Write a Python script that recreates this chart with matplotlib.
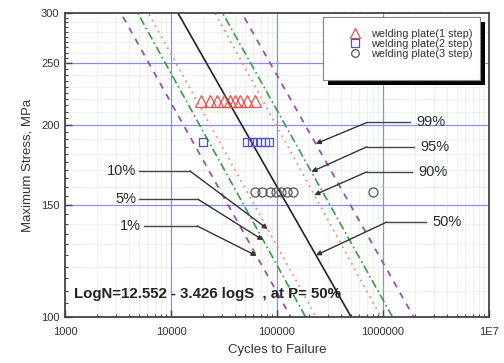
import numpy as np
import matplotlib.pyplot as plt
import matplotlib.patheffects as pe
from matplotlib.patches import Rectangle
from matplotlib.ticker import FixedLocator, FixedFormatter, NullFormatter

plt.rcParams['font.family'] = ['Liberation Sans', 'DejaVu Sans']

# fatigue test results: stress level (MPa) and cycles to failure
step1_stress = 218
step1_cycles = [19200, 23300, 27200, 31600, 36000, 40200, 44800, 52100, 61900]
step2_stress = 188
step2_cycles = [20000, 52100, 58100, 64700, 70600, 77100, 84100]
step3_stress = 157
step3_cycles = [61900, 72100, 85900, 97900, 109000, 124000, 141600, 805000]

# P-S-N curves, logN = a - b logS
prob_labels = ['1%', '5%', '10%', '50%', '90%', '95%', '99%']
prob_a = [11.85, 11.91, 12.01, 12.552, 12.54, 12.81, 13.09]
prob_b = [3.36, 3.32, 3.32, 3.426, 3.28, 3.36, 3.40]

x_ticks = [1e3, 1e4, 1e5, 1e6, 1e7]
x_ticklabels = ['1000', '10000', '100000', '1000000', '1E7']
y_ticks = [100, 150, 200, 250, 300]

purple = '#9a4fb0'
green = '#3d9a4a'
pink = '#f08a8a'
curve_styles = {
    '1%':  dict(color=purple, ls=(0, (3.5, 3.5)), lw=1.3),
    '5%':  dict(color=green, ls=(0, (5, 2, 1, 2)), lw=1.2),
    '10%': dict(color=pink, ls=(0, (1, 2.5)), lw=1.3),
    '50%': dict(color='#222222', ls='-', lw=1.2),
    '90%': dict(color=pink, ls=(0, (1, 2.5)), lw=1.3),
    '95%': dict(color=green, ls=(0, (5, 2, 1, 2)), lw=1.2),
    '99%': dict(color=purple, ls=(0, (3.5, 3.5)), lw=1.3),
}


def cycles_at(a, b, s):
    return 10 ** (a - b * np.log10(s))


fig = plt.figure(figsize=(5.04, 3.63), dpi=100)
ax = fig.add_axes([65 / 504, 1 - 317 / 363, 424 / 504, 304 / 363])
ax.set_xscale('log')
ax.set_yscale('log')
ax.set_xlim(1e3, 1e7)
ax.set_ylim(100, 300)

# faint minor grid, blue major grid
minor_x = [m * 10 ** e for e in range(3, 7) for m in range(2, 10)]
minor_y = list(range(110, 300, 10))
for x in minor_x:
    ax.axvline(x, color='#cfe9cf', lw=0.6, ls=(0, (1, 1)), zorder=0)
for y in minor_y:
    ax.axhline(y, color='#cfe9cf', lw=0.6, ls=(0, (1, 1)), zorder=0)
for x in x_ticks[1:-1]:
    ax.axvline(x, color='#8c8cf0', lw=0.9, zorder=1)
for y in y_ticks[1:-1]:
    ax.axhline(y, color='#8c8cf0', lw=0.9, zorder=1)

# probability curves
s_range = np.array([95.0, 310.0])
for lab, a, b in zip(prob_labels, prob_a, prob_b):
    ax.plot(cycles_at(a, b, s_range), s_range, zorder=2, **curve_styles[lab])

# test points
ax.plot(step1_cycles, [step1_stress] * len(step1_cycles), ls='none', marker='^',
        ms=8, mfc='none', mec='#e85050', mew=0.9, zorder=3,
        label='welding plate(1 step)')
ax.plot(step2_cycles, [step2_stress] * len(step2_cycles), ls='none', marker='s',
        ms=6, mfc='none', mec='#4f4fd8', mew=0.9, zorder=3,
        label='welding plate(2 step)')
ax.plot(step3_cycles, [step3_stress] * len(step3_cycles), ls='none', marker='o',
        ms=6.5, mfc='none', mec='#555555', mew=0.9, zorder=3,
        label='welding plate(3 step)')

# curve labels with leader lines: (text N, text S, bend N, tip S)
callouts = {
    '99%': (2.05e6, 202, 7.06e5, 187),
    '95%': (2.23e6, 185, 7.06e5, 169),
    '90%': (2.14e6, 169, 7.06e5, 155.4),
    '50%': (2.90e6, 141, 1.09e6, 125),
    '10%': (4680, 169.5, 15100, 137.4),
    '5%':  (4680, 153, 18000, 132),
    '1%':  (5210, 139, 17600, 124.7),
}
for lab, (tx, ty, bx, tip_s) in callouts.items():
    i = prob_labels.index(lab)
    tip_n = cycles_at(prob_a[i], prob_b[i], tip_s)
    right_side = tx > bx
    ax.text(tx, ty, lab, fontsize=10.5, color='#2b2b2b',
            ha='left' if right_side else 'right', va='center', zorder=5)
    start = tx * (0.88 if right_side else 1.07)
    ax.plot([start, bx], [ty, ty], color='#444444', lw=1.0, zorder=4)
    ax.annotate('', xy=(tip_n, tip_s), xytext=(bx, ty), zorder=4,
                arrowprops=dict(arrowstyle='-|>', color='#333333', lw=1.0,
                                mutation_scale=7, shrinkA=0, shrinkB=0))

ax.text(0.022, 0.075, 'LogN=12.552 - 3.426 logS  , at P= 50%', transform=ax.transAxes,
        fontsize=10.8, fontweight='bold', color='#222222', va='center', zorder=5)

# legend box with hard black shadow
frame = Rectangle((0.608, 0.78), 0.371, 0.207, transform=ax.transAxes,
                  facecolor='white', edgecolor='#888888', lw=0.8, zorder=6)
frame.set_path_effects([pe.withSimplePatchShadow(offset=(3.6, -3.6), shadow_rgbFace='black',
                                                 alpha=1.0), pe.Normal()])
ax.add_patch(frame)
leg = ax.legend(loc='upper right', bbox_to_anchor=(0.972, 0.962), frameon=False,
                fontsize=7.8, handlelength=1.0, handletextpad=1.0, labelspacing=0.0,
                borderaxespad=0, numpoints=1, labelcolor='#333333', markerscale=0.85)
leg.set_zorder(7)

# axes and ticks
ax.xaxis.set_major_locator(FixedLocator(x_ticks))
ax.xaxis.set_major_formatter(FixedFormatter(x_ticklabels))
ax.xaxis.set_minor_locator(FixedLocator(minor_x))
ax.xaxis.set_minor_formatter(NullFormatter())
ax.yaxis.set_major_locator(FixedLocator(y_ticks))
ax.yaxis.set_major_formatter(FixedFormatter([str(v) for v in y_ticks]))
ax.yaxis.set_minor_locator(FixedLocator([v for v in range(105, 300, 5) if v % 50]))
ax.yaxis.set_minor_formatter(NullFormatter())
ax.tick_params(which='both', direction='in', colors='#444444', labelcolor='#333333',
               labelsize=8)
ax.tick_params(which='major', length=5, width=1.0)
ax.tick_params(which='minor', length=2.5, width=0.8)
ax.tick_params(axis='x', pad=7)
ax.tick_params(axis='y', pad=4)
for sp in ax.spines.values():
    sp.set_color('#444444')
    sp.set_linewidth(1.3)
    sp.set_zorder(8)

ax.set_xlabel('Cycles to Failure', fontsize=9.5, color='#333333', labelpad=5)
ax.set_ylabel('Maximum Stress, MPa', fontsize=9.5, color='#333333', labelpad=5)

fig.savefig('out.png', dpi=100, facecolor='white')
